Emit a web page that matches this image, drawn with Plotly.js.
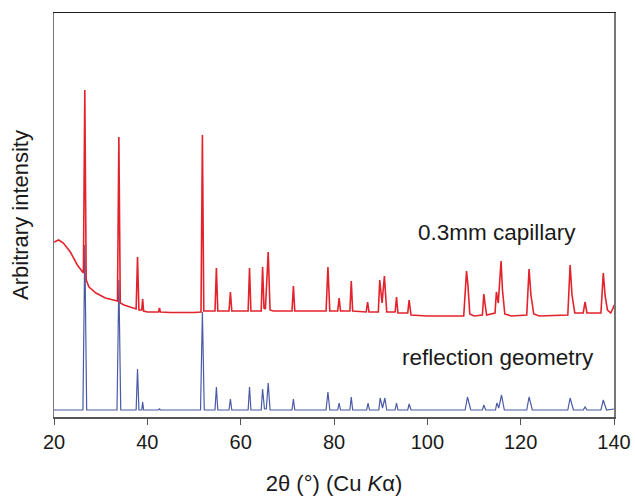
<!DOCTYPE html>
<html>
<head>
<meta charset="utf-8">
<script src="https://cdn.plot.ly/plotly-3.0.1.min.js"></script>
<style>html,body{margin:0;padding:0;background:#fff;}#chart{width:635px;height:496px;}</style>
</head>
<body>
<div id="chart"></div>
<script>
// 2θ positions (degrees) and arbitrary intensity
const capillaryX = [20, 21, 22, 23.5, 25, 26.0, 26.3, 26.6, 26.9, 27.5, 29, 31, 33.0, 33.6, 33.9, 34.2, 35, 36.5, 37.6, 37.9, 38.2, 38.8, 39.0, 39.2, 40, 42.4, 42.6, 42.8, 45, 50, 51.5, 51.8, 52.1, 54.5, 54.8, 55.1, 57.5, 57.8, 58.1, 61.6, 61.9, 62.2, 64.4, 64.7, 65.0, 65.3, 65.9, 66.3, 67, 71.0, 71.3, 71.6, 78.3, 78.7, 79.1, 80.8, 81.1, 81.4, 83.4, 83.7, 84.0, 86.9, 87.2, 87.5, 89.5, 89.8, 90.3, 90.8, 91.3, 93.1, 93.4, 93.7, 95.8, 96.1, 96.5, 100, 107.8, 108.4, 108.7, 109.1, 110, 111.8, 112.1, 112.4, 112.7, 114.5, 114.8, 115.2, 115.8, 116.1, 116.6, 118, 121.3, 121.8, 122.2, 122.8, 124, 130.1, 130.6, 131.0, 131.6, 133.4, 133.8, 134.2, 137.2, 137.7, 138.1, 138.6, 139.3, 139.9, 140];
const capillaryY = [175, 177, 174, 165, 152, 145, 144, 327, 137, 130, 124, 119, 117, 116, 280, 114, 112, 110, 108, 160, 107, 107, 118, 106, 105, 105, 109, 105, 104.5, 104.5, 105, 282, 106, 106, 149, 106, 106, 125, 106, 106, 149, 106, 106, 150, 109, 108, 165, 107, 106, 106, 131, 106, 106, 150, 106, 106, 119, 106, 106, 136, 106, 105, 115, 105, 105, 137, 114, 141, 105, 105, 120, 104, 104, 117, 102, 101, 101, 146, 132, 103, 101, 102, 123, 112, 102, 104, 125, 114, 156, 127, 103, 101, 102, 148, 122, 103, 101, 102, 152, 122, 104, 104, 115, 104, 104, 144, 121, 107, 104, 110, 112];

const reflectionX = [20, 26.2, 26.6, 27.0, 33.5, 33.9, 34.3, 37.6, 37.9, 38.2, 38.8, 39.0, 39.2, 42.4, 42.6, 42.8, 51.4, 51.8, 52.2, 54.5, 54.8, 55.1, 57.5, 57.8, 58.1, 61.6, 61.9, 62.2, 64.4, 64.7, 65.1, 65.5, 65.9, 66.3, 71.0, 71.3, 71.6, 78.3, 78.7, 79.1, 80.8, 81.1, 81.4, 83.4, 83.7, 84.0, 87.0, 87.3, 87.6, 89.6, 89.9, 90.4, 90.9, 91.3, 93.1, 93.4, 93.7, 95.8, 96.1, 96.5, 108.1, 108.6, 109.3, 111.8, 112.1, 112.5, 114.6, 114.9, 115.3, 115.9, 116.5, 121.3, 121.8, 122.5, 130.1, 130.6, 131.3, 133.4, 133.8, 134.2, 137.2, 137.7, 138.4, 140];
const reflectionY = [7, 7, 172, 7, 7, 137, 7, 7, 48, 7, 7, 15, 7, 7, 8, 7, 7, 105, 7, 7, 30, 7, 7, 18, 7, 7, 30, 7, 7, 28, 8, 8, 34, 7, 7, 18, 7, 7, 25, 7, 7, 14, 7, 7, 20, 7, 7, 14, 7, 7, 19, 9, 19, 7, 7, 14, 7, 7, 13, 7, 7, 20, 7, 7, 12, 7, 7, 14, 9, 22, 7, 7, 20, 7, 7, 19, 7, 7, 10, 7, 7, 17, 7, 8];

const xTicks = [20, 40, 60, 80, 100, 120, 140];
const labelCapillary = "0.3mm capillary";
const labelReflection = "reflection geometry";

const font = "Arial, 'Liberation Sans', sans-serif";

const traces = [
  {x: reflectionX, y: reflectionY, type: "scatter", mode: "lines",
   line: {color: "#4b5aa6", width: 1.2}, name: labelReflection},
  {x: capillaryX, y: capillaryY, type: "scatter", mode: "lines",
   line: {color: "#e3232c", width: 1.6}, name: labelCapillary}
];

const layout = {
  width: 635, height: 496,
  margin: {l: 54, r: 21, t: 13, b: 79},
  paper_bgcolor: "#fff", plot_bgcolor: "#fff",
  showlegend: false,
  font: {family: font, color: "#1a1a1a"},
  xaxis: {
    range: [20, 140], tickvals: xTicks, ticktext: xTicks.map(String),
    ticks: "outside", ticklen: 6, tickcolor: "#555", tickwidth: 1,
    showline: true, linecolor: "#555", linewidth: 1.5, mirror: false,
    showgrid: false, zeroline: false,
    tickfont: {size: 20, family: font, color: "#1a1a1a"},
    title: {text: "2θ (°) (Cu <i>K</i>α)", font: {size: 22, family: font, color: "#1a1a1a"}, standoff: 26}
  },
  xaxis2: {overlaying: "x", side: "top", range: [20, 140], showline: true, linecolor: "#222", linewidth: 1.5,
           showticklabels: false, ticks: "", showgrid: false, zeroline: false, matches: "x"},
  yaxis: {
    range: [0, 404], showticklabels: false, ticks: "",
    showline: true, linecolor: "#777", linewidth: 1.5, mirror: true,
    showgrid: false, zeroline: false,
    title: {text: "Arbitrary intensity", font: {size: 22, family: font, color: "#1a1a1a"}, standoff: 18}
  },
  annotations: [
    {x: 97.6, y: 185, xref: "x", yref: "y", text: labelCapillary, showarrow: false,
     xanchor: "left", yanchor: "middle", font: {size: 22.5, family: font, color: "#1a1a1a"}},
    {x: 94.1, y: 60, xref: "x", yref: "y", text: labelReflection, showarrow: false,
     xanchor: "left", yanchor: "middle", font: {size: 22.5, family: font, color: "#1a1a1a"}}
  ]
};

traces.push({x: [20, 140], y: [null, null], xaxis: "x2", yaxis: "y", type: "scatter", mode: "lines", hoverinfo: "skip", showlegend: false});

Plotly.newPlot("chart", traces, layout, {displayModeBar: false, staticPlot: true});
</script>
</body>
</html>
